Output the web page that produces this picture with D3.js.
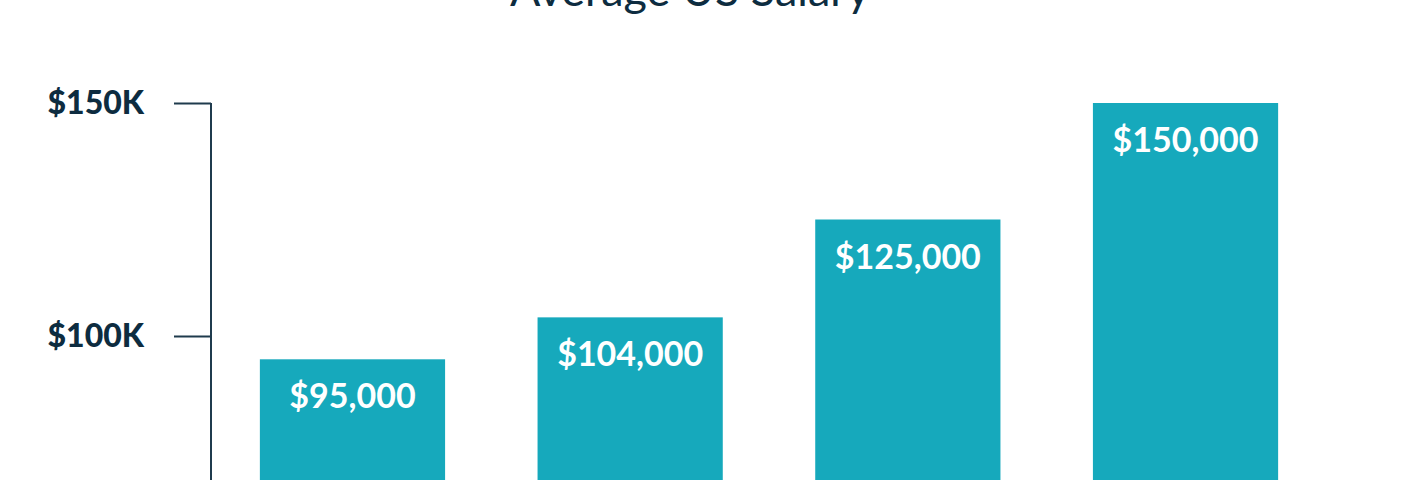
<!DOCTYPE html>
<html>
<head>
<meta charset="utf-8">
<script src="https://cdn.jsdelivr.net/npm/d3@7"></script>
<style>
  html, body { margin: 0; padding: 0; background: #fff; overflow: hidden; }
  svg { display: block; }
</style>
</head>
<body>
<svg id="chart"></svg>
<script>
// chart data
const categories = ["A", "B", "C", "D"];
const salaries = [95000, 104000, 125000, 150000];
// only the ticks that fall inside the frame are shown
const tickValues = [100000, 150000];
const title = "Average US Salary";

const width = 1404;
const height = 480;
const navy = "#0d2c40";
const teal = "#16a9bc";

const svg = d3.select("#chart").attr("width", width).attr("height", height);

// the plot is taller than the viewport: zero sits well below the bottom edge
const x = d3.scaleBand()
  .domain(categories)
  .range([211, 1327])
  .paddingInner(0.333)
  .paddingOuter(0.176);

const y = d3.scaleLinear()
  .domain([0, 150000])
  .range([802, 103]);

// title
svg.append("text")
  .attr("x", 690)
  .attr("y", 6)
  .attr("text-anchor", "middle")
  .attr("font-family", "Lato, sans-serif")
  .attr("font-size", 45)
  .attr("fill", navy)
  .text(title);

// y axis
const yAxis = svg.append("g")
  .attr("transform", "translate(211,0)")
  .call(d3.axisLeft(y)
    .tickValues(tickValues)
    .tickSize(37)
    .tickPadding(30)
    .tickFormat(d => "$" + d / 1000 + "K"));

yAxis.select(".domain")
  .attr("d", `M0,${y(150000)}V${y(0)}`)
  .attr("stroke", "#1f3b4d")
  .attr("stroke-width", 2);
yAxis.selectAll(".tick line")
  .attr("stroke", "#1f3b4d")
  .attr("stroke-width", 2);
yAxis.selectAll(".tick text")
  .attr("font-family", "Lato, sans-serif")
  .attr("font-weight", "900")
  .attr("font-size", 32)
  .attr("fill", navy);

// bars
svg.append("g")
  .selectAll("rect")
  .data(salaries)
  .join("rect")
  .attr("x", (d, i) => x(categories[i]))
  .attr("y", d => y(d))
  .attr("width", x.bandwidth())
  .attr("height", d => y(0) - y(d))
  .attr("fill", teal);

// value labels inside bars
svg.append("g")
  .selectAll("text")
  .data(salaries)
  .join("text")
  .attr("x", (d, i) => x(categories[i]) + x.bandwidth() / 2)
  .attr("y", d => y(d) + 49)
  .attr("text-anchor", "middle")
  .attr("font-family", "Lato, sans-serif")
  .attr("font-weight", "bold")
  .attr("font-size", 34)
  .attr("fill", "#fff")
  .text(d => "$" + d3.format(",")(d));
</script>
</body>
</html>
